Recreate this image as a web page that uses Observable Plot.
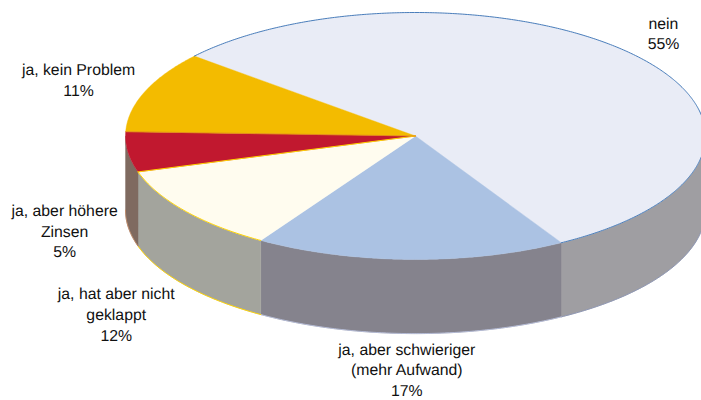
<!DOCTYPE html>
<html>
<head>
<meta charset="utf-8">
<script src="https://cdn.jsdelivr.net/npm/d3@7"></script>
<script src="https://cdn.jsdelivr.net/npm/@observablehq/plot@0.6"></script>
<style>html,body{margin:0;padding:0;background:#fff}svg{display:block}</style>
</head>
<body>
<div id="chart"></div>
<script>
// Values
const categories = ["nein", "ja, aber schwieriger\n(mehr Aufwand)", "ja, hat aber nicht\ngeklappt", "ja, aber höhere\nZinsen", "ja, kein Problem"];
const percentLabels = ["55%", "17%", "12%", "5%", "11%"];
const shares = [55.42, 17.35, 11.35, 5.25, 10.64];
// Styles
const topColors = ["#e9ecf6", "#abc2e3", "#fffcef", "#c1182f", "#f3bb00"];
const sideColors = ["#9f9ea2", "#85838d", "#a3a49d", "#7f6a60", "#a08a30"];
const arcEdge = ["#4a7ebb", "none", "#ffd400", "none", "none"];
const sideEdge = ["#8e97b5", "#b4bbd6", "#ffd400", "#c08a68", "none"];
const seamColors = ["#b4bbd6", "#b4bbd6", "#ffd400", "#ffd400", "none"];
// Geometry, in pie units
const startAngle = 310.3, depth = 0.6;
const labelPlace = [[0.855, -0.84], [-0.03, 1.885], [-1.032, 1.435], [-1.21, 0.76], [-1.162, -0.46]];

const rad = (d) => (d * Math.PI) / 180;
const pt = (deg, dz = 0) => ({x: Math.sin(rad(deg)), y: -Math.cos(rad(deg)) + dz});
const arc = (a, b, dz = 0) => {
  const n = Math.max(2, Math.ceil(Math.abs(b - a) * 2));
  return d3.range(n + 1).map((i) => pt(a + ((b - a) * i) / n, dz));
};

let cursor = startAngle;
const slices = shares.map((s, i) => {
  const a = cursor, b = cursor + (s / d3.sum(shares)) * 360;
  cursor = b;
  return {i, a, b};
});

// Front-facing part of a slice's wall (90..270 deg, also modulo 360)
const front = ({a, b}) => {
  for (const k of [0, 360, 720]) {
    const lo = Math.max(a, 90 + k), hi = Math.min(b, 270 + k);
    if (lo < hi) return [lo, hi];
  }
  return null;
};

const marks = [];
for (const s of slices) {
  const f = front(s);
  if (!f) continue;
  const outer = [...arc(f[0], f[1]), ...arc(f[1], f[0], depth)];
  marks.push(Plot.line([...outer, outer[0]], {x: "x", y: "y", fill: sideColors[s.i], stroke: sideColors[s.i], strokeWidth: 0.4}));
  marks.push(Plot.line(arc(f[0], f[1], depth), {x: "x", y: "y", stroke: sideEdge[s.i], strokeWidth: 1}));
}
for (const s of slices) {
  const f = front(s);
  if (f && seamColors[s.i] !== "none" && s.b > f[0] && s.b < f[1]) {
    marks.push(Plot.line([pt(s.b), pt(s.b, depth)], {x: "x", y: "y", stroke: seamColors[s.i], strokeWidth: 1}));
  }
}
for (const s of slices) {
  const poly = [{x: 0, y: 0}, ...arc(s.a, s.b), {x: 0, y: 0}];
  marks.push(Plot.line(poly, {x: "x", y: "y", fill: topColors[s.i], stroke: topColors[s.i], strokeWidth: 0.4}));
}
// Outline details
slices.forEach((s) => {
  if (arcEdge[s.i] !== "none") marks.push(Plot.line(arc(s.a, s.b), {x: "x", y: "y", stroke: arcEdge[s.i], strokeWidth: 1}));
});
marks.push(Plot.line([pt(slices[2].b), {x: 0, y: 0}], {x: "x", y: "y", stroke: "#ffd400", strokeWidth: 1}));
marks.push(Plot.line([pt(slices[3].b), {x: 0, y: 0}], {x: "x", y: "y", stroke: "#e0801c", strokeWidth: 0.7}));
marks.push(Plot.text(categories.map((c, i) => ({t: c + "\n" + percentLabels[i], x: labelPlace[i][0], y: labelPlace[i][1]})), {
  x: "x", y: "y", text: "t", fill: "#111", fontSize: 15.8, lineHeight: 1.3125, textAnchor: "middle", lineAnchor: "middle", fontFamily: "Liberation Sans"
}));

const chart = Plot.plot({
  width: 701, height: 400, margin: 0,
  x: {axis: null, domain: [-1, 1], range: [125, 705]},
  y: {axis: null, domain: [-1, 1], range: [12, 259]},
  style: {background: "#fff", textRendering: "geometricPrecision"},
  marks
});
document.getElementById("chart").append(chart);
</script>
</body>
</html>
